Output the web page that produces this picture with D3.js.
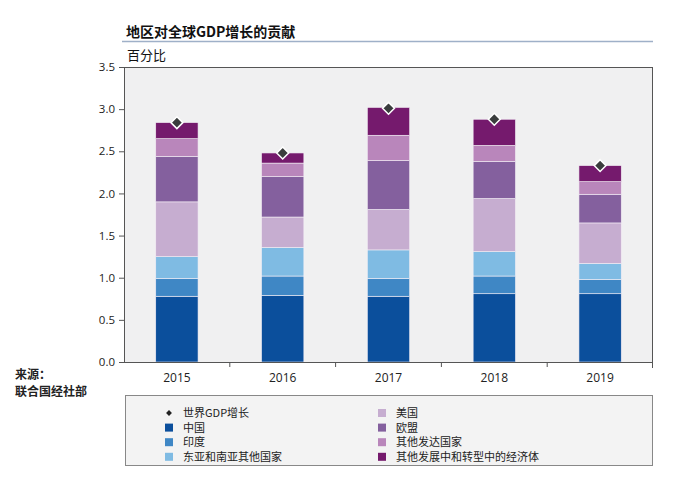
<!DOCTYPE html>
<html><head><meta charset="utf-8">
<script src="https://cdn.jsdelivr.net/npm/d3@7"></script>
<style>body{margin:0;background:#fff;font-family:"Noto Sans CJK SC","Noto Sans",sans-serif;}</style>
</head><body>
<svg id="c" width="690" height="500"></svg>
<script>
const years = ["2015","2016","2017","2018","2019"];
const china = [0.78,0.79,0.78,0.81,0.81];
const india = [0.21,0.23,0.21,0.21,0.17];
const eastAsia = [0.26,0.34,0.34,0.29,0.19];
const usa = [0.65,0.36,0.48,0.63,0.48];
const eu = [0.54,0.48,0.58,0.44,0.34];
const otherDeveloped = [0.21,0.16,0.30,0.19,0.15];
const otherEmerging = [0.19,0.12,0.33,0.31,0.19];
const worldGDP = [2.84,2.48,3.01,2.88,2.33];
const yTicks = [0,0.5,1.0,1.5,2.0,2.5,3.0,3.5];
const seriesNames = ["中国","印度","东亚和南亚其他国家","美国","欧盟","其他发达国家","其他发展中和转型中的经济体"];
const seriesColors = ["#0b4f9c","#3f87c5","#7fbbe3","#c6add0","#84609e","#b986bb","#751a6d"];

const seriesData = [china,india,eastAsia,usa,eu,otherDeveloped,otherEmerging];
const rows = years.map((y,i)=>{const r={year:y};seriesNames.forEach((n,k)=>r[n]=seriesData[k][i]);return r;});
const stack = d3.stack().keys(seriesNames)(rows);

const svg = d3.select("#c");
const L=124,R=653,T=67,B=362;
const x = d3.scaleBand().domain(years).range([L,R]).paddingInner(0.6).paddingOuter(0.3);
const y = d3.scaleLinear().domain([0,3.5]).range([B,T]);

// title
svg.append("text").attr("x",126).attr("y",37).attr("font-size",14).attr("font-weight","bold").attr("fill","#111").text("地区对全球GDP增长的贡献");
svg.append("line").attr("x1",122).attr("x2",653).attr("y1",41.5).attr("y2",41.5).attr("stroke","#9fb0c8").attr("stroke-width",1.5);
svg.append("text").attr("x",127).attr("y",60).attr("font-size",13).attr("fill","#111").text("百分比");

// plot bg
svg.append("rect").attr("x",L).attr("y",T).attr("width",R-L).attr("height",B-T).attr("fill","#f0f0f1");
svg.append("line").attr("x1",L).attr("x2",R).attr("y1",T+0.5).attr("y2",T+0.5).attr("stroke","#555");
svg.append("line").attr("x1",R-0.5).attr("x2",R-0.5).attr("y1",T).attr("y2",B+6).attr("stroke","#555");

// bars
svg.append("g").selectAll("g").data(stack).join("g").attr("fill",(d,i)=>seriesColors[i])
 .selectAll("rect").data(d=>d).join("rect")
 .attr("x",d=>x(d.data.year)).attr("width",x.bandwidth())
 .attr("y",d=>y(d[1])).attr("height",d=>y(d[0])-y(d[1]))
 .attr("stroke","#f4eef6").attr("stroke-width",0.6);

// diamonds
svg.append("g").selectAll("path").data(worldGDP).join("path")
 .attr("transform",(d,i)=>`translate(${x(years[i])+x.bandwidth()/2},${y(d)})`)
 .attr("d",d3.symbol().type(d3.symbolDiamond2).size(90))
 .attr("fill","#3a3d3d").attr("stroke","#fff").attr("stroke-width",1.5);

// y axis
const ya = svg.append("g").attr("transform",`translate(${L},0)`)
 .call(d3.axisLeft(y).tickValues(yTicks).tickFormat(d3.format(".1f")).tickSize(5));
ya.select(".domain").attr("stroke","#555");
ya.selectAll(".tick line").attr("stroke","#555");
ya.selectAll("text").attr("font-size",11.5).attr("fill","#222").attr("font-family","Open Sans, sans-serif").attr("dx",-1);

// x axis
svg.append("line").attr("x1",L).attr("x2",R).attr("y1",B+0.5).attr("y2",B+0.5).attr("stroke","#555");
const bounds = years.slice(1).map(yr=>x(yr)-x.step()*x.paddingInner()/2);
svg.append("g").selectAll("line").data(bounds).join("line")
 .attr("x1",d=>d).attr("x2",d=>d).attr("y1",B).attr("y2",B+5).attr("stroke","#555");
svg.append("g").selectAll("text").data(years).join("text")
 .attr("x",d=>x(d)+x.bandwidth()/2).attr("y",B+20).attr("text-anchor","middle")
 .attr("font-size",12).attr("fill","#222").attr("font-family","Open Sans, sans-serif").text(d=>d);

// source
svg.append("text").attr("x",15).attr("y",379).attr("font-size",12).attr("font-weight","bold").attr("fill","#222").text("来源：");
svg.append("text").attr("x",15).attr("y",396).attr("font-size",12).attr("font-weight","bold").attr("fill","#222").text("联合国经社部");

// legend
svg.append("rect").attr("x",125.5).attr("y",395.5).attr("width",527).attr("height",70).attr("fill","#f3f3f3").attr("stroke","#888");
const legendItems = [{name:"世界GDP增长",type:"diamond"}].concat(seriesNames.map((n,i)=>({name:n,type:"rect",color:seriesColors[i]})));
const lg = svg.append("g").selectAll("g").data(legendItems).join("g")
 .attr("transform",(d,i)=>{const col=i<4?0:1,row=i%4;return `translate(${col?382:169},${413+row*14.6})`;});
lg.each(function(d){
  const g=d3.select(this);
  if(d.type==="diamond") g.append("path").attr("d",d3.symbol().type(d3.symbolDiamond2).size(22)).attr("fill","#222");
  else g.append("rect").attr("x",-4).attr("y",-4).attr("width",8).attr("height",8).attr("fill",d.color);
  g.append("text").attr("x",14).attr("y",4).attr("font-size",11).attr("fill","#222").text(d.name);
});
</script>
</body></html>
